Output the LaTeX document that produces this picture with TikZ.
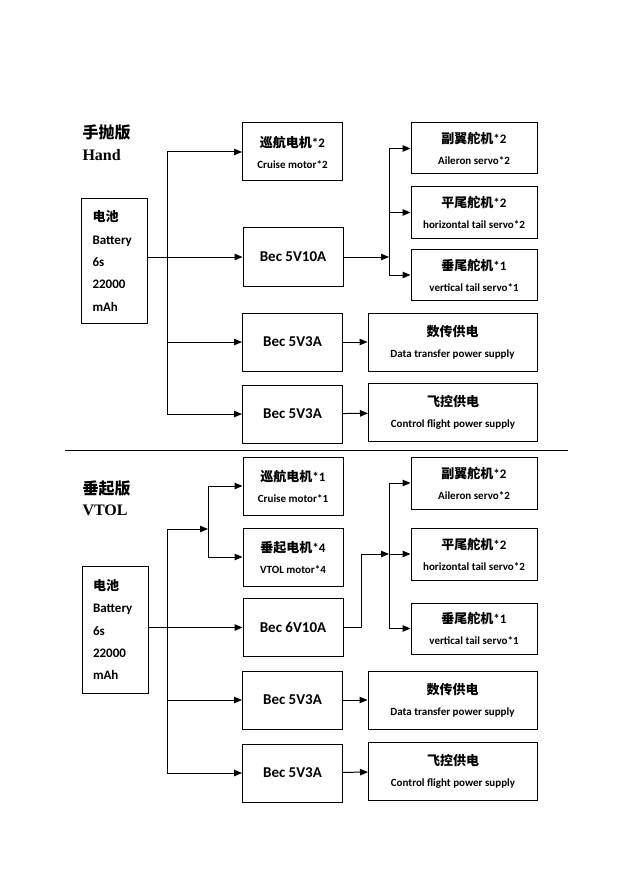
\documentclass[tikz,border=0pt]{standalone}
\usepackage{fontspec}
\setmainfont{Carlito}
\newfontfamily\cjkfont{Noto Sans CJK SC}
\newfontfamily\timesfont{Liberation Serif}
\usetikzlibrary{arrows.meta}
\newcommand{\zh}[1]{{\cjkfont #1}}
\newcommand{\duo}[2]{{\fontsize{13}{21}\selectfont #1}\\#2}

\begin{document}
\begin{tikzpicture}[
    x=1pt, y=-1pt, line width=1pt,
    part_box/.style={rectangle, draw, font=\bfseries\fontsize{11}{21}\selectfont, align=center, inner sep=0pt, minimum width=100pt, minimum height=58pt},
    bec_box/.style={part_box, font=\bfseries\fontsize{15}{18}\selectfont},
    servo_box/.style={part_box, minimum width=126pt, minimum height=51pt},
    supply_box/.style={part_box, minimum width=169pt},
    bat_box/.style={rectangle, draw, font=\bfseries\fontsize{13}{22.3}\selectfont, align=left, text width=44pt, inner xsep=11pt, inner ysep=0pt, minimum height=124pt},
    title_text/.style={anchor=west, inner sep=0pt, font=\bfseries\fontsize{16}{18}\selectfont},
    arrow/.style={-{Triangle[length=8pt,width=6.5pt]}}
]
\useasboundingbox (0,0) rectangle (631,893);

% Hand version
\node[title_text] (hand_zh) at (82,133) {\zh{手抛版}};
\node[title_text, font=\bfseries\fontsize{16}{18}\selectfont\timesfont] (hand_en) at (82,155) {Hand};

\node[bat_box] (bat1) at (114.5,261) {\zh{电池}\\Battery\\6s\\22000\\mAh};
\node[part_box] (cruise1) at (292.5,152) {\duo{\zh{巡航电机}*2}{Cruise motor*2}};
\node[bec_box] (bec1) at (293,257) {Bec 5V10A};
\node[bec_box] (bec2) at (292.5,342) {Bec 5V3A};
\node[bec_box] (bec3) at (292.5,414) {Bec 5V3A};
\node[servo_box] (ail1) at (474,148.5) {\duo{\zh{副翼舵机}*2}{Aileron servo*2}};
\node[servo_box] (hor1) at (474,212.5) {\duo{\zh{平尾舵机}*2}{horizontal tail servo*2}};
\node[servo_box] (vert1) at (474,275) {\duo{\zh{垂尾舵机}*1}{vertical tail servo*1}};
\node[supply_box] (data1) at (452.5,342) {\duo{\zh{数传供电}}{Data transfer power supply}};
\node[supply_box] (ctrl1) at (453,412.5) {\duo{\zh{飞控供电}}{Control flight power supply}};

\coordinate (hub1) at (167,0);
\coordinate (fork1) at (389,0);

\draw (hub1 |- cruise1) -- (hub1 |- bec3);
\draw[arrow] (bat1.east |- bec1) -- (bec1.west);
\draw[arrow] (hub1 |- cruise1) -- (cruise1.west);
\draw[arrow] (hub1 |- bec2) -- (bec2.west);
\draw[arrow] (hub1 |- bec3) -- (bec3.west);
\draw[arrow] (bec1.east) -- (bec1.east -| fork1);
\draw (fork1 |- ail1) -- (fork1 |- vert1);
\draw[arrow] (fork1 |- ail1) -- (ail1.west);
\draw[arrow] (fork1 |- hor1) -- (hor1.west);
\draw[arrow] (fork1 |- vert1) -- (vert1.west);
\draw[arrow] (bec2) -- (data1);
\draw[arrow] (bec3) -- (ctrl1);

\draw (65,450) -- (568,450);

% VTOL version
\node[title_text] (vtol_zh) at (82,489) {\zh{垂起版}};
\node[title_text, font=\bfseries\fontsize{16}{18}\selectfont\timesfont] (vtol_en) at (82,510) {VTOL};

\node[bat_box, minimum height=127pt] (bat2) at (115,629.5) {\zh{电池}\\Battery\\6s\\22000\\mAh};
\node[part_box] (cruise2) at (293,486) {\duo{\zh{巡航电机}*1}{Cruise motor*1}};
\node[part_box] (vtol2) at (293,557) {\duo{\zh{垂起电机}*4}{VTOL motor*4}};
\node[bec_box] (bec4) at (293,627.5) {Bec 6V10A};
\node[bec_box] (bec5) at (292.5,700) {Bec 5V3A};
\node[bec_box] (bec6) at (292.5,773) {Bec 5V3A};
\node[servo_box, minimum height=52pt] (ail2) at (474,483) {\duo{\zh{副翼舵机}*2}{Aileron servo*2}};
\node[servo_box, minimum height=52pt] (hor2) at (474,554) {\duo{\zh{平尾舵机}*2}{horizontal tail servo*2}};
\node[servo_box] (vert2) at (474,628.5) {\duo{\zh{垂尾舵机}*1}{vertical tail servo*1}};
\node[supply_box] (data2) at (452.5,700) {\duo{\zh{数传供电}}{Data transfer power supply}};
\node[supply_box] (ctrl2) at (453,771) {\duo{\zh{飞控供电}}{Control flight power supply}};

\coordinate (hub2) at (167,0);
\coordinate (split2) at (208,529);
\coordinate (bend2) at (361,0);
\coordinate (fork2) at (389,0);

\draw (hub2 |- split2) -- (hub2 |- bec6);
\draw[arrow] (hub2 |- split2) -- (split2);
\draw (split2 |- cruise2) -- (split2 |- vtol2);
\draw[arrow] (split2 |- cruise2) -- (cruise2.west);
\draw[arrow] (split2 |- vtol2) -- (vtol2.west);
\draw[arrow] (bat2.east |- bec4) -- (bec4.west);
\draw[arrow] (hub2 |- bec5) -- (bec5.west);
\draw[arrow] (hub2 |- bec6) -- (bec6.west);
\draw[arrow] (bec4.east) -- (bec4.east -| bend2) |- (fork2 |- hor2);
\draw (fork2 |- ail2) -- (fork2 |- vert2);
\draw[arrow] (fork2 |- ail2) -- (ail2.west);
\draw[arrow] (fork2 |- hor2) -- (hor2.west);
\draw[arrow] (fork2 |- vert2) -- (vert2.west);
\draw[arrow] (bec5) -- (data2);
\draw[arrow] (bec6) -- (ctrl2);

\end{tikzpicture}
\end{document}
